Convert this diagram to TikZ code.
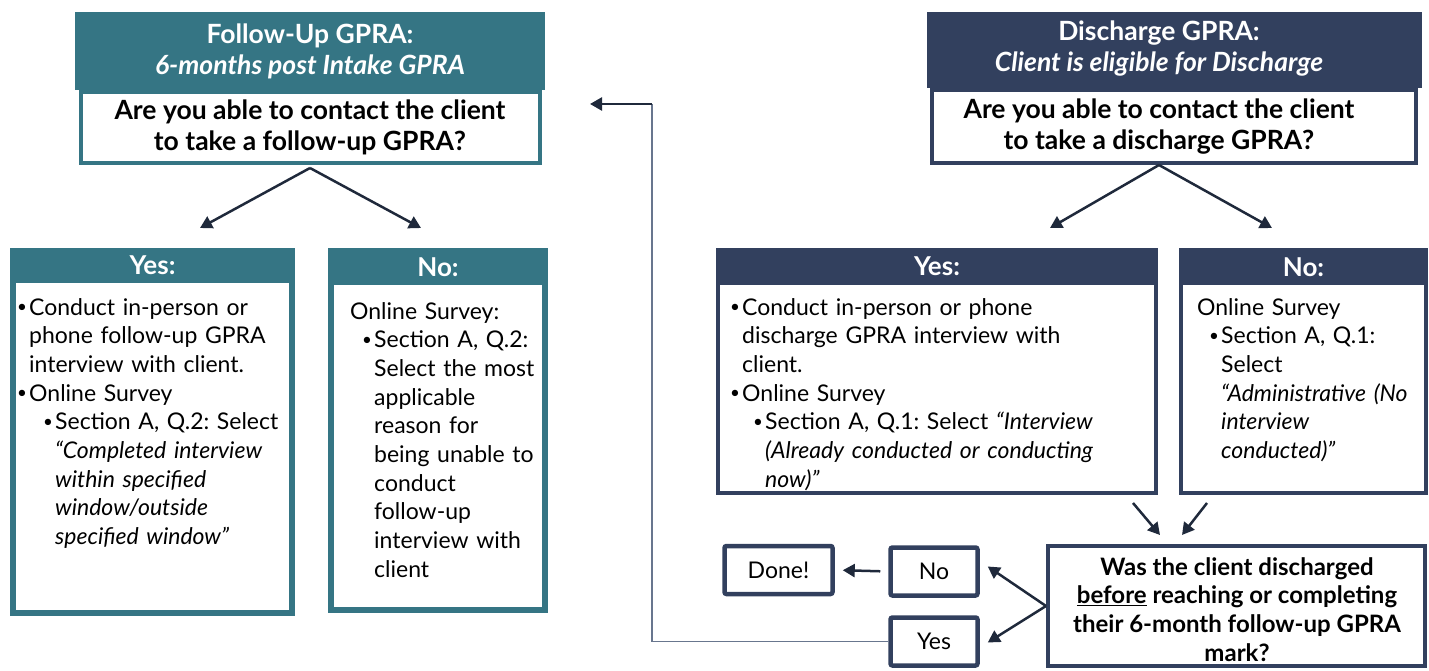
\documentclass[tikz,border=0pt]{standalone}
\usepackage{fontspec}
\setmainfont{Lato}
\usetikzlibrary{arrows.meta}
\definecolor{futeal}{RGB}{53,117,132}
\definecolor{dcnavy}{RGB}{50,64,94}
\definecolor{arrowink}{RGB}{31,41,59}
\definecolor{loopgray}{RGB}{104,118,142}
\newcommand{\bul}{\makebox[12pt][l]{\raisebox{2.5pt}{\fontsize{17}{17}\selectfont\textbullet}}}
\newcommand{\bodyfont}{\frenchspacing\fontsize{23}{28.7}\selectfont}
\newcommand{\titlefont}{\bfseries\fontsize{26.5}{31}\selectfont}
\newcommand{\headfont}{\bfseries\fontsize{26}{31}\selectfont}
\newcommand{\askfont}{\bfseries\fontsize{26.5}{31}\selectfont}
\tikzset{
  headbox/.style={fill=#1, inner sep=0pt, text=white, font=\headfont, align=center},
  framebox/.style={draw=#1, fill=white, line width=4pt, inner sep=0pt},
  bodytext/.style={anchor=base west, text width=#1, align=left, inner sep=0pt, font=\bodyfont},
  smallbox/.style={draw=dcnavy, line width=4.5pt, rounded corners=2pt, minimum width=87pt, minimum height=48pt, inner sep=0pt, font=\bodyfont},
  flow/.style={draw=arrowink, line width=2.5pt, -{Triangle[length=12pt,width=13pt]}},
  loopline/.style={draw=loopgray, line width=1.5pt}
}
\begin{document}
\begin{tikzpicture}[x=1pt,y=-1pt]
\useasboundingbox (0,0) rectangle (1429,671);

\node[headbox=futeal, font=\titlefont, minimum width=470pt, minimum height=78pt] (futitle) at (310,51) {Follow-Up GPRA:\\\textit{6-months post Intake GPRA}};
\node[framebox=futeal, minimum width=459pt, minimum height=71pt, align=center, font=\askfont] (fuask) at (310,127.5) {Are you able to contact the client\\to take a follow-up GPRA?};

\node[framebox=futeal, line width=6pt, minimum width=279pt, minimum height=362pt] (fuyes) at (152.5,432) {};
\node[headbox=futeal, minimum width=285pt, minimum height=35pt, anchor=north] (fuyeshd) at (152.5,248) {Yes:};
\node[bodytext=300pt] (fuyestx) at (17,315) {\bul Conduct in-person or\\
\hspace*{12pt}phone follow-up GPRA\\
\hspace*{12pt}interview with client.\\
\bul Online Survey\\
\hspace*{26pt}\bul Section A, Q.2: Select\\
\hspace*{38pt}\textit{“Completed interview}\\
\hspace*{38pt}\textit{within specified}\\
\hspace*{38pt}\textit{window/outside}\\
\hspace*{38pt}\textit{specified window”}};

\node[framebox=futeal, line width=6pt, minimum width=214pt, minimum height=359pt] (funo) at (438,430.5) {};
\node[headbox=futeal, minimum width=220pt, minimum height=37pt, anchor=north] (funohd) at (438,248) {No:};
\node[bodytext=250pt] (funotx) at (350,319) {Online Survey:\\
\hspace*{12pt}\bul Section A, Q.2:\\
\hspace*{24pt}Select the most\\
\hspace*{24pt}applicable\\
\hspace*{24pt}reason for\\
\hspace*{24pt}being unable to\\
\hspace*{24pt}conduct\\
\hspace*{24pt}follow-up\\
\hspace*{24pt}interview with\\
\hspace*{24pt}client};

\node[headbox=dcnavy, minimum width=495pt, minimum height=76pt] (dctitle) at (1174.5,50) {};
\node[text=white, font=\titlefont, align=center, inner sep=0pt] (dctitletx) at (1159,48.5) {Discharge GPRA:\\\textit{Client is eligible for Discharge}};
\node[framebox=dcnavy, minimum width=484pt, minimum height=73pt] (dcask) at (1174,126.5) {};
\node[font=\askfont, align=center, inner sep=0pt] (dcasktx) at (1159,126.5) {Are you able to contact the client\\to take a discharge GPRA?};

\node[framebox=dcnavy, minimum width=438pt, minimum height=243pt] (dcyes) at (937,371.5) {};
\node[headbox=dcnavy, minimum width=442pt, minimum height=37pt, anchor=north] (dcyeshd) at (937,248) {Yes:};
\node[bodytext=440pt] (dcyestx) at (730,315) {\bul Conduct in-person or phone\\
\hspace*{12pt}discharge GPRA interview with\\
\hspace*{12pt}client.\\
\bul Online Survey\\
\hspace*{23pt}\bul Section A, Q.1: Select \textit{“Interview}\\
\hspace*{35pt}\textit{(Already conducted or conducting}\\
\hspace*{35pt}\textit{now)”}};

\node[framebox=dcnavy, minimum width=245pt, minimum height=243pt] (dcno) at (1303.5,371.5) {};
\node[headbox=dcnavy, minimum width=249pt, minimum height=37pt, anchor=north] (dcnohd) at (1303.5,248) {No:};
\node[bodytext=240pt] (dcnotx) at (1197,315) {Online Survey\\
\hspace*{12pt}\bul Section A, Q.1:\\
\hspace*{24pt}Select\\
\hspace*{24pt}\textit{“Administrative (No}\\
\hspace*{24pt}\textit{interview}\\
\hspace*{24pt}\textit{conducted)”}};

\node[framebox=dcnavy, minimum width=377pt, minimum height=120pt] (dcq) at (1236.5,606) {};
\node[align=center, inner sep=0pt, font=\bfseries\frenchspacing\fontsize{24}{28.7}\selectfont] (dcqtx) at (1237,609.5) {Was the client discharged\\\underline{before} reaching or completing\\their 6-month follow-up GPRA\\mark?};
\node[smallbox] (nobtn) at (934,571.5) {No};
\node[smallbox] (yesbtn) at (934,641.5) {Yes};
\node[smallbox, minimum width=108pt] (done) at (778.5,570) {Done!};

\coordinate (loopturn) at (652,104);
\coordinate (looptip) at (590,104);

\draw[flow] ([shift={(0,3)}]fuask.south) -- ([shift={(47.5,-20)}]fuyeshd.north);
\draw[flow] ([shift={(0,3)}]fuask.south) -- ([shift={(-17,-20)}]funohd.north);
\draw[flow] (dcask.south -| dcasktx.center) -- ([shift={(113,-20)}]dcyeshd.north);
\draw[flow] (dcask.south -| dcasktx.center) -- ([shift={(-31.5,-20)}]dcnohd.north);
\draw[flow] ([shift={(-25,8)}]dcyes.south east) -- ([shift={(-76.5,-9)}]dcq.north);
\draw[flow] ([shift={(28,8)}]dcno.south west) -- ([shift={(-54.5,-9)}]dcq.north);
\draw[flow] (dcq.west) -- ([shift={(8,-5)}]nobtn.east);
\draw[flow] (dcq.west) -- ([shift={(8,1)}]yesbtn.east);
\draw[flow, shorten <=8pt, shorten >=8pt] (nobtn.west) -- (done.east);
\draw[loopline] (yesbtn.west) -| (loopturn);
\draw[flow] (loopturn) -- (looptip);
\end{tikzpicture}
\end{document}
